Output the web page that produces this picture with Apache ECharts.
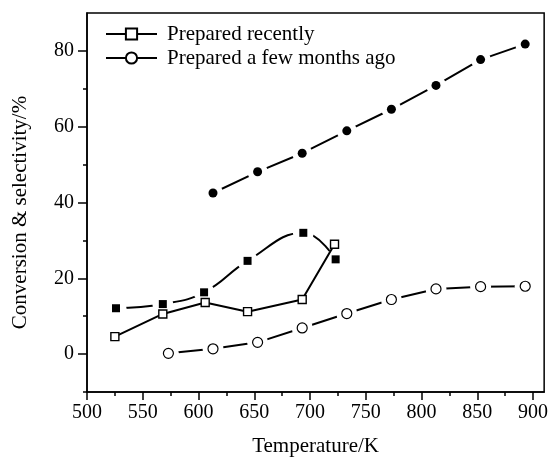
<!DOCTYPE html>
<html>
<head>
<meta charset="utf-8">
<script src="https://cdn.jsdelivr.net/npm/echarts@6/dist/echarts.min.js"></script>
<style>html,body{margin:0;padding:0;background:#fff}#c{width:551px;height:463px}</style>
</head>
<body>
<div id="c"></div>
<script>
// Open squares: prepared recently
var tempOpenSq = [525, 568, 606, 644, 693, 722];
var valOpenSq = [4.6, 10.6, 13.6, 11.2, 14.4, 29.0];
// Filled squares
var tempFilledSq = [526, 568, 605, 644, 694, 723];
var valFilledSq = [12.1, 13.2, 16.3, 24.6, 32.0, 25.0];
// Open circles: prepared a few months ago
var tempOpenCirc = [573, 613, 653, 693, 733, 773, 813, 853, 893];
var valOpenCirc = [0.2, 1.4, 3.1, 6.9, 10.7, 14.4, 17.2, 17.8, 17.9];
// Filled circles
var tempFilledCirc = [613, 653, 693, 733, 773, 813, 853, 893];
var valFilledCirc = [42.5, 48.1, 53.0, 58.9, 64.6, 70.9, 77.7, 81.8];

var xMajor = [500, 550, 600, 650, 700, 750, 800, 850, 900];
var xMinor = [525, 575, 625, 675, 725, 775, 825, 875];
var yMajor = [0, 20, 40, 60, 80];
var yMinor = [-10, 10, 30, 50, 70];
var seriesNames = ['Prepared recently', 'Prepared a few months ago'];

function pts(xs, ys) { return xs.map(function (x, i) { return [x, ys[i]]; }); }

var FONT = 'Liberation Serif';
var HALO = '#fff';
var chart = echarts.init(document.getElementById('c'), null, {renderer: 'canvas'});
var axisLineStyle = {color: '#000', width: 1.5};
function markerSeries(name, data, symbol, size, itemStyle, z) {
  return {type: 'line', name: name, data: data, symbol: symbol, symbolSize: size, showSymbol: true,
          lineStyle: {opacity: 0, width: 0}, itemStyle: itemStyle, z: z, emphasis: {disabled: true}};
}
chart.setOption({
  animation: false,
  backgroundColor: '#fff',
  grid: {left: 87, right: 3, top: 13, bottom: 71, show: true, borderColor: '#000', borderWidth: 1.5, backgroundColor: 'transparent'},
  legend: {
    data: seriesNames,
    orient: 'vertical',
    left: 105, top: 22, padding: 0, itemGap: 0,
    itemWidth: 51, itemHeight: 14,
    textStyle: {fontFamily: FONT, fontSize: 21, color: '#000', lineHeight: 24, padding: [0, 0, 0, 5]}
  },
  xAxis: [
    {type: 'value', min: 500, max: 910, position: 'bottom',
     name: 'Temperature/K', nameLocation: 'middle', nameGap: 44,
     nameTextStyle: {fontFamily: FONT, fontSize: 21, color: '#000'},
     axisLine: {show: true, onZero: false, lineStyle: axisLineStyle},
     axisTick: {show: true, customValues: xMajor, length: 8, lineStyle: axisLineStyle},
     axisLabel: {customValues: xMajor, fontFamily: FONT, fontSize: 20, color: '#000', margin: 11},
     splitLine: {show: false}},
    {type: 'value', min: 500, max: 910, position: 'bottom',
     axisLine: {show: false, onZero: false},
     axisTick: {show: true, customValues: xMinor, length: 4, lineStyle: axisLineStyle},
     axisLabel: {show: false}, splitLine: {show: false}}
  ],
  yAxis: [
    {type: 'value', min: -10, max: 90, position: 'left',
     name: 'Conversion & selectivity/%', nameLocation: 'middle', nameGap: 56, nameRotate: 90,
     nameTextStyle: {fontFamily: FONT, fontSize: 21, color: '#000', padding: [0, 0, 0, -20]},
     axisLine: {show: true, onZero: false, lineStyle: axisLineStyle},
     axisTick: {show: true, customValues: yMajor, length: 9, lineStyle: axisLineStyle},
     axisLabel: {customValues: yMajor, fontFamily: FONT, fontSize: 20, color: '#000', margin: 13},
     splitLine: {show: false}},
    {type: 'value', min: -10, max: 90, position: 'left',
     axisLine: {show: false, onZero: false},
     axisTick: {show: true, customValues: yMinor, length: 4, lineStyle: axisLineStyle},
     axisLabel: {show: false}, splitLine: {show: false}}
  ],
  series: [
    // filled squares: smooth line, white gaps round the marks, marks on top
    {type: 'line', name: 'fsqLine', data: pts(tempFilledSq, valFilledSq), smooth: 0.45, showSymbol: false, symbol: 'none',
     lineStyle: {color: '#000', width: 2}, z: 2},
    markerSeries('fsqHalo', pts(tempFilledSq, valFilledSq), 'circle', 21, {color: HALO}, 3),
    // open squares (legend series)
    {type: 'line', name: seriesNames[0], data: pts(tempOpenSq, valOpenSq), symbol: 'rect', symbolSize: 8, showSymbol: true,
     lineStyle: {color: '#000', width: 2}, itemStyle: {color: '#fff', borderColor: '#000', borderWidth: 1.4}, z: 4},
    markerSeries('fsq', pts(tempFilledSq, valFilledSq), 'rect', 8, {color: '#000'}, 5),
    // filled circles
    {type: 'line', name: 'fcLine', data: pts(tempFilledCirc, valFilledCirc), showSymbol: false, symbol: 'none',
     lineStyle: {color: '#000', width: 2}, z: 2},
    markerSeries('fcHalo', pts(tempFilledCirc, valFilledCirc), 'circle', 20, {color: HALO}, 3),
    markerSeries('fc', pts(tempFilledCirc, valFilledCirc), 'circle', 9, {color: '#000'}, 5),
    // open circles (legend series)
    {type: 'line', name: seriesNames[1], data: pts(tempOpenCirc, valOpenCirc), showSymbol: false, symbol: 'circle', symbolSize: 10,
     lineStyle: {color: '#000', width: 2}, itemStyle: {color: '#fff', borderColor: '#000', borderWidth: 1.2}, z: 2},
    markerSeries('ocHalo', pts(tempOpenCirc, valOpenCirc), 'circle', 21, {color: HALO}, 3),
    markerSeries('oc', pts(tempOpenCirc, valOpenCirc), 'circle', 10, {color: '#fff', borderColor: '#000', borderWidth: 1.2}, 5)
  ]
});
</script>
</body>
</html>
